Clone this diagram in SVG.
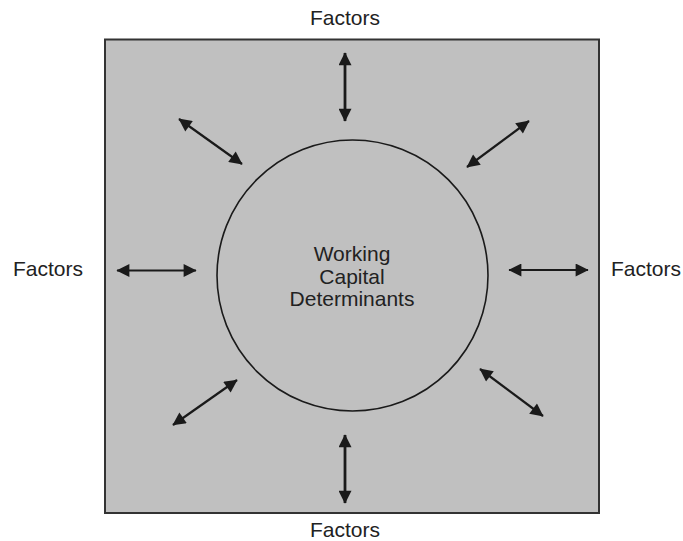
<svg xmlns="http://www.w3.org/2000/svg" width="683" height="541" viewBox="0 0 683 541">
<style>
.lbl{font-family:"Liberation Sans",Arial,sans-serif;font-size:21px;fill:#222;text-anchor:middle}
.arr{stroke:#1a1a1a;stroke-width:2.2;fill:none;marker-start:url(#ah);marker-end:url(#ah)}
.thick{stroke-width:2.8}
</style>
<defs>
<marker id="ah" viewBox="0 0 10 10" refX="9.5" refY="5" markerWidth="14.5" markerHeight="13" markerUnits="userSpaceOnUse" orient="auto-start-reverse">
<path d="M0,0 L10,5 L0,10 z" fill="#1a1a1a"/>
</marker>
</defs>
<rect width="683" height="541" fill="#fff"/>
<g id="box"><rect x="105" y="39.5" width="494" height="473.5" fill="#c0c0c0" stroke="#333" stroke-width="2"/></g>
<g id="center"><circle cx="352.5" cy="275.5" r="135.5" fill="none" stroke="#1a1a1a" stroke-width="1.6"/>
<text class="lbl" x="352" y="261">Working</text>
<text class="lbl" x="352" y="284">Capital</text>
<text class="lbl" x="352" y="306">Determinants</text></g>
<g id="factors-top"><text class="lbl" x="345" y="25">Factors</text></g>
<g id="factors-bottom"><text class="lbl" x="345" y="537">Factors</text></g>
<g id="factors-left"><text class="lbl" x="48" y="276">Factors</text></g>
<g id="factors-right"><text class="lbl" x="646" y="276">Factors</text></g>
<g id="connectors">
<line class="arr thick" x1="345" y1="53" x2="345" y2="121"/>
<line class="arr thick" x1="345" y1="435" x2="345" y2="503"/>
<line class="arr" x1="117" y1="270.5" x2="196" y2="270.5"/>
<line class="arr" x1="509" y1="270" x2="588" y2="270"/>
<line class="arr" x1="179" y1="119" x2="242" y2="164"/>
<line class="arr" x1="467" y1="167" x2="529" y2="121"/>
<line class="arr" x1="173" y1="425" x2="237" y2="380"/>
<line class="arr" x1="480" y1="369" x2="543" y2="416"/>
</g>
</svg>
